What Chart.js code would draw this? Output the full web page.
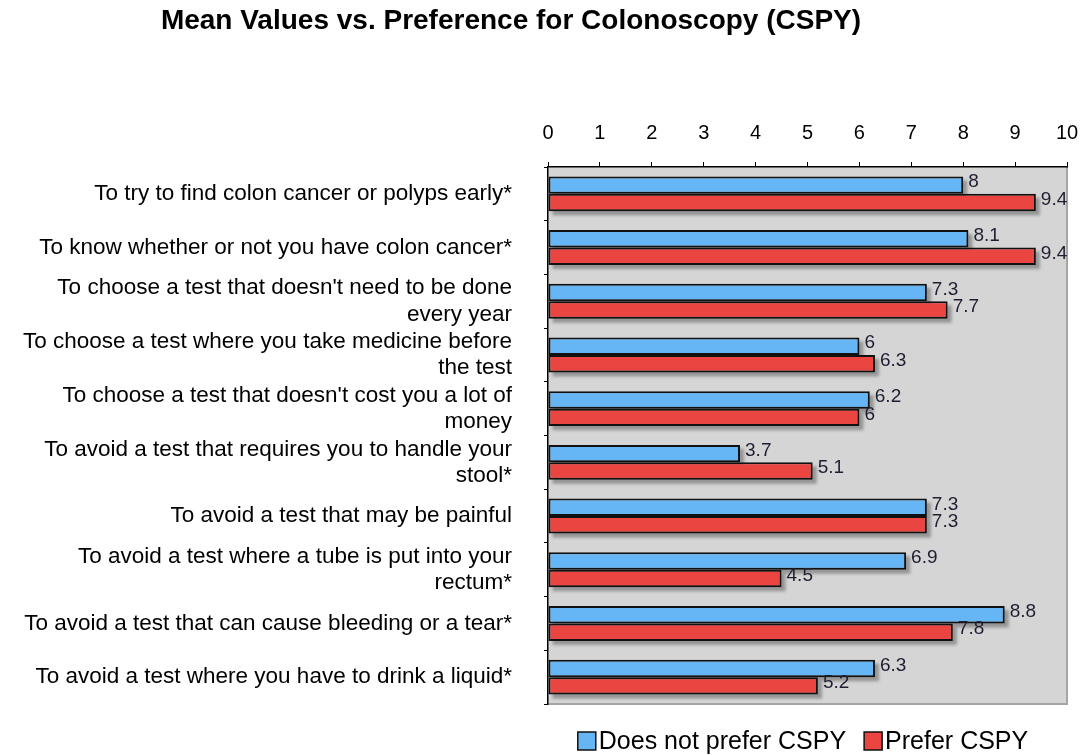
<!DOCTYPE html>
<html><head><meta charset="utf-8">
<script src="https://cdn.jsdelivr.net/npm/chart.js@4/dist/chart.umd.min.js"></script>
<style>html,body{margin:0;padding:0;background:#fff}#wrap{width:1089px;height:755px}</style>
</head><body><div id="wrap"><canvas id="c" width="1089" height="755"></canvas></div>
<script>
const categories = [
  "To try to find colon cancer or polyps early*",
  "To know whether or not you have colon cancer*",
  ["To choose a test that doesn't need to be done", "every year"],
  ["To choose a test where you take medicine before", "the test"],
  ["To choose a test that doesn't cost you a lot of", "money"],
  ["To avoid a test that requires you to handle your", "stool*"],
  "To avoid a test that may be painful",
  ["To avoid a test where a tube is put into your", "rectum*"],
  "To avoid a test that can cause bleeding or a tear*",
  "To avoid a test where you have to drink a liquid*"
];
const doesNotPrefer = [8, 8.1, 7.3, 6, 6.2, 3.7, 7.3, 6.9, 8.8, 6.3];
const preferCSPY = [9.4, 9.4, 7.7, 6.3, 6, 5.1, 7.3, 4.5, 7.8, 5.2];
const xTicks = [0,1,2,3,4,5,6,7,8,9,10];
const titleText = "Mean Values vs. Preference for Colonoscopy (CSPY)";
const seriesNames = ["Does not prefer CSPY", "Prefer CSPY"];

const FONT = "'Liberation Sans', Arial, Helvetica, sans-serif";

const decoPlugin = {
  id: 'deco',
  beforeDraw(chart) {
    const {ctx, chartArea: a} = chart;
    ctx.save();
    ctx.fillStyle = '#d5d5d5';
    ctx.fillRect(a.left, a.top, a.right - a.left, a.bottom - a.top);
    ctx.strokeStyle = '#a5a5a5';
    ctx.lineWidth = 2;
    ctx.beginPath();
    ctx.moveTo(a.right, a.top); ctx.lineTo(a.right, a.bottom); ctx.lineTo(a.left, a.bottom);
    ctx.stroke();
    ctx.restore();
    // title
    ctx.save();
    ctx.fillStyle = '#000';
    ctx.font = "bold 28px " + FONT;
    ctx.textAlign = 'center';
    ctx.textBaseline = 'middle';
    ctx.fillText(titleText, 511, 21);
    ctx.restore();
  },
  beforeDatasetsDraw(chart) {
    const ctx = chart.ctx;
    ctx.save();
    ctx.fillStyle = 'rgba(70,70,70,0.45)';
    ctx.filter = 'blur(1.5px)';
    chart.data.datasets.forEach((ds, di) => {
      chart.getDatasetMeta(di).data.forEach(bar => {
        const p = bar.getProps(['x', 'y', 'base', 'height'], true);
        ctx.fillRect(p.base + 4, p.y - p.height / 2 + 4, p.x - p.base, p.height);
      });
    });
    ctx.restore();
  },
  afterDatasetsDraw(chart) {
    const ctx = chart.ctx;
    ctx.save();
    ctx.fillStyle = '#1e1e30';
    ctx.font = "19px " + FONT;
    ctx.textAlign = 'left';
    ctx.textBaseline = 'middle';
    chart.data.datasets.forEach((ds, di) => {
      chart.getDatasetMeta(di).data.forEach((bar, i) => {
        ctx.fillText(String(ds.data[i]), bar.x + 5, bar.y - 3);
      });
    });
    ctx.restore();
  },
  afterDraw(chart) {
    const ctx = chart.ctx;
    ctx.save();
    ctx.font = "25px " + FONT;
    ctx.textBaseline = 'middle';
    ctx.textAlign = 'left';
    const box = 18, gapBT = 3, gapItems = 18, cy = 741;
    const items = chart.data.datasets.map(ds => ({ text: ds.label, color: ds.backgroundColor, w: ctx.measureText(ds.label).width }));
    const total = items.reduce((s, it) => s + box + gapBT + it.w, 0) + gapItems * (items.length - 1);
    let x = 803 - total / 2;
    items.forEach(it => {
      ctx.fillStyle = it.color;
      ctx.fillRect(x, cy - box / 2, box, box);
      ctx.strokeStyle = '#111';
      ctx.lineWidth = 1.5;
      ctx.strokeRect(x, cy - box / 2, box, box);
      ctx.fillStyle = '#000';
      ctx.fillText(it.text, x + box + gapBT, cy + 1);
      x += box + gapBT + it.w + gapItems;
    });
    ctx.restore();
  }
};

new Chart(document.getElementById('c'), {
  type: 'bar',
  data: {
    labels: categories,
    datasets: [
      { label: seriesNames[0], data: doesNotPrefer, backgroundColor: '#66b6f6', borderColor: '#111', borderWidth: 2, borderSkipped: false },
      { label: seriesNames[1], data: preferCSPY, backgroundColor: '#ea4540', borderColor: '#111', borderWidth: 2, borderSkipped: false }
    ]
  },
  options: {
    indexAxis: 'y',
    responsive: false,
    animation: false,
    devicePixelRatio: 1,
    layout: { padding: { top: 113, right: 22, bottom: 51, left: 0 } },
    datasets: { bar: { categoryPercentage: 0.65, barPercentage: 1.0 } },
    scales: {
      x: {
        position: 'top',
        min: 0, max: 10,
        afterBuildTicks(s) { s.ticks = xTicks.map(v => ({ value: v })); },
        afterFit(s) { s.height = 54; s.paddingLeft = 0; s.paddingRight = 0; },
        ticks: { color: '#000', font: { family: FONT, size: 20 }, padding: 17, maxRotation: 0 },
        grid: { display: true, drawOnChartArea: false, drawTicks: true, tickLength: 5, color: '#000' },
        border: { display: true, color: '#000', width: 1.5 }
      },
      y: {
        afterFit(s) { s.width = 548; s.paddingTop = 0; s.paddingBottom = 0; },
        ticks: { color: '#000', font: { family: FONT, size: 22.5, lineHeight: 1.16 }, padding: 32, autoSkip: false },
        grid: { display: true, offset: true, drawOnChartArea: false, tickLength: 4, color: '#000' },
        border: { display: true, color: '#000', width: 1.5 }
      }
    },
    plugins: {
      title: { display: false },
      tooltip: { enabled: false },
      legend: { display: false }
    }
  },
  plugins: [decoPlugin]
});
</script></body></html>
